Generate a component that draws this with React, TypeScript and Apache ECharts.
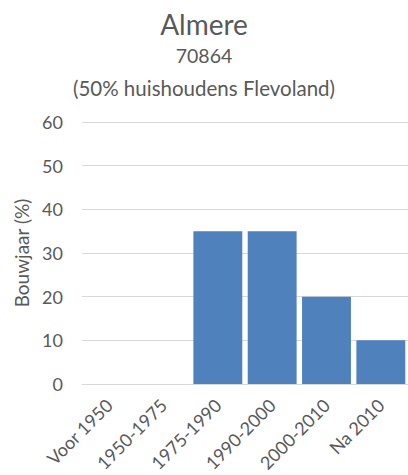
import React, { useEffect, useRef } from "react";
import * as echarts from "echarts";

const categories = ["Voor 1950", "1950-1975", "1975-1990", "1990-2000", "2000-2010", "Na 2010"];
const values = [0, 0, 35, 35, 20, 10];
const titleText = "Almere";
const subtitleLines = ["70864", "(50% huishoudens Flevoland)"];
const yAxisName = "Bouwjaar (%)";

const FONT = "Lato, 'Open Sans', sans-serif";
const TEXT = "#595959";

export default function App() {
  const ref = useRef<HTMLDivElement>(null);
  useEffect(() => {
    if (!ref.current) return;
    const chart = echarts.init(ref.current, undefined, { renderer: "svg" });
    chart.setOption({
      animation: false,
      title: [
        {
          text: titleText,
          left: "center",
          top: 5,
          textStyle: { fontFamily: FONT, fontSize: 28, fontWeight: "normal", color: TEXT },
        },
        {
          text: subtitleLines[0],
          left: "center",
          top: 40,
          textStyle: { fontFamily: FONT, fontSize: 19.5, fontWeight: "normal", color: TEXT },
        },
        {
          text: subtitleLines[1],
          left: "center",
          top: 72,
          textStyle: { fontFamily: FONT, fontSize: 20.5, fontWeight: "normal", color: TEXT },
        },
      ],
      grid: { left: 82, width: 329, top: 122, bottom: 91, containLabel: false },
      xAxis: {
        type: "category",
        data: categories,
        axisLine: { show: true, lineStyle: { color: "#d9d9d9" } },
        axisTick: { show: false },
        axisLabel: {
          rotate: 45,
          interval: 0,
          margin: 18,
          fontFamily: FONT,
          fontSize: 18,
          color: TEXT,
        },
      },
      yAxis: {
        type: "value",
        min: 0,
        max: 60,
        interval: 10,
        name: yAxisName,
        nameLocation: "middle",
        nameGap: 48,
        nameTextStyle: { fontFamily: FONT, fontSize: 19, color: TEXT },
        axisLine: { show: false },
        axisTick: { show: false },
        axisLabel: { margin: 19, fontFamily: FONT, fontSize: 18, color: TEXT },
        splitLine: { lineStyle: { color: "#d9d9d9", width: 1 } },
      },
      series: [
        {
          type: "bar",
          data: values,
          barCategoryGap: "10%",
          itemStyle: { color: "#4F81BD" },
        },
      ],
    });
    return () => chart.dispose();
  }, []);
  return <div ref={ref} style={{ width: 408, height: 475, position: "absolute", left: 0, top: 0 }} />;
}
